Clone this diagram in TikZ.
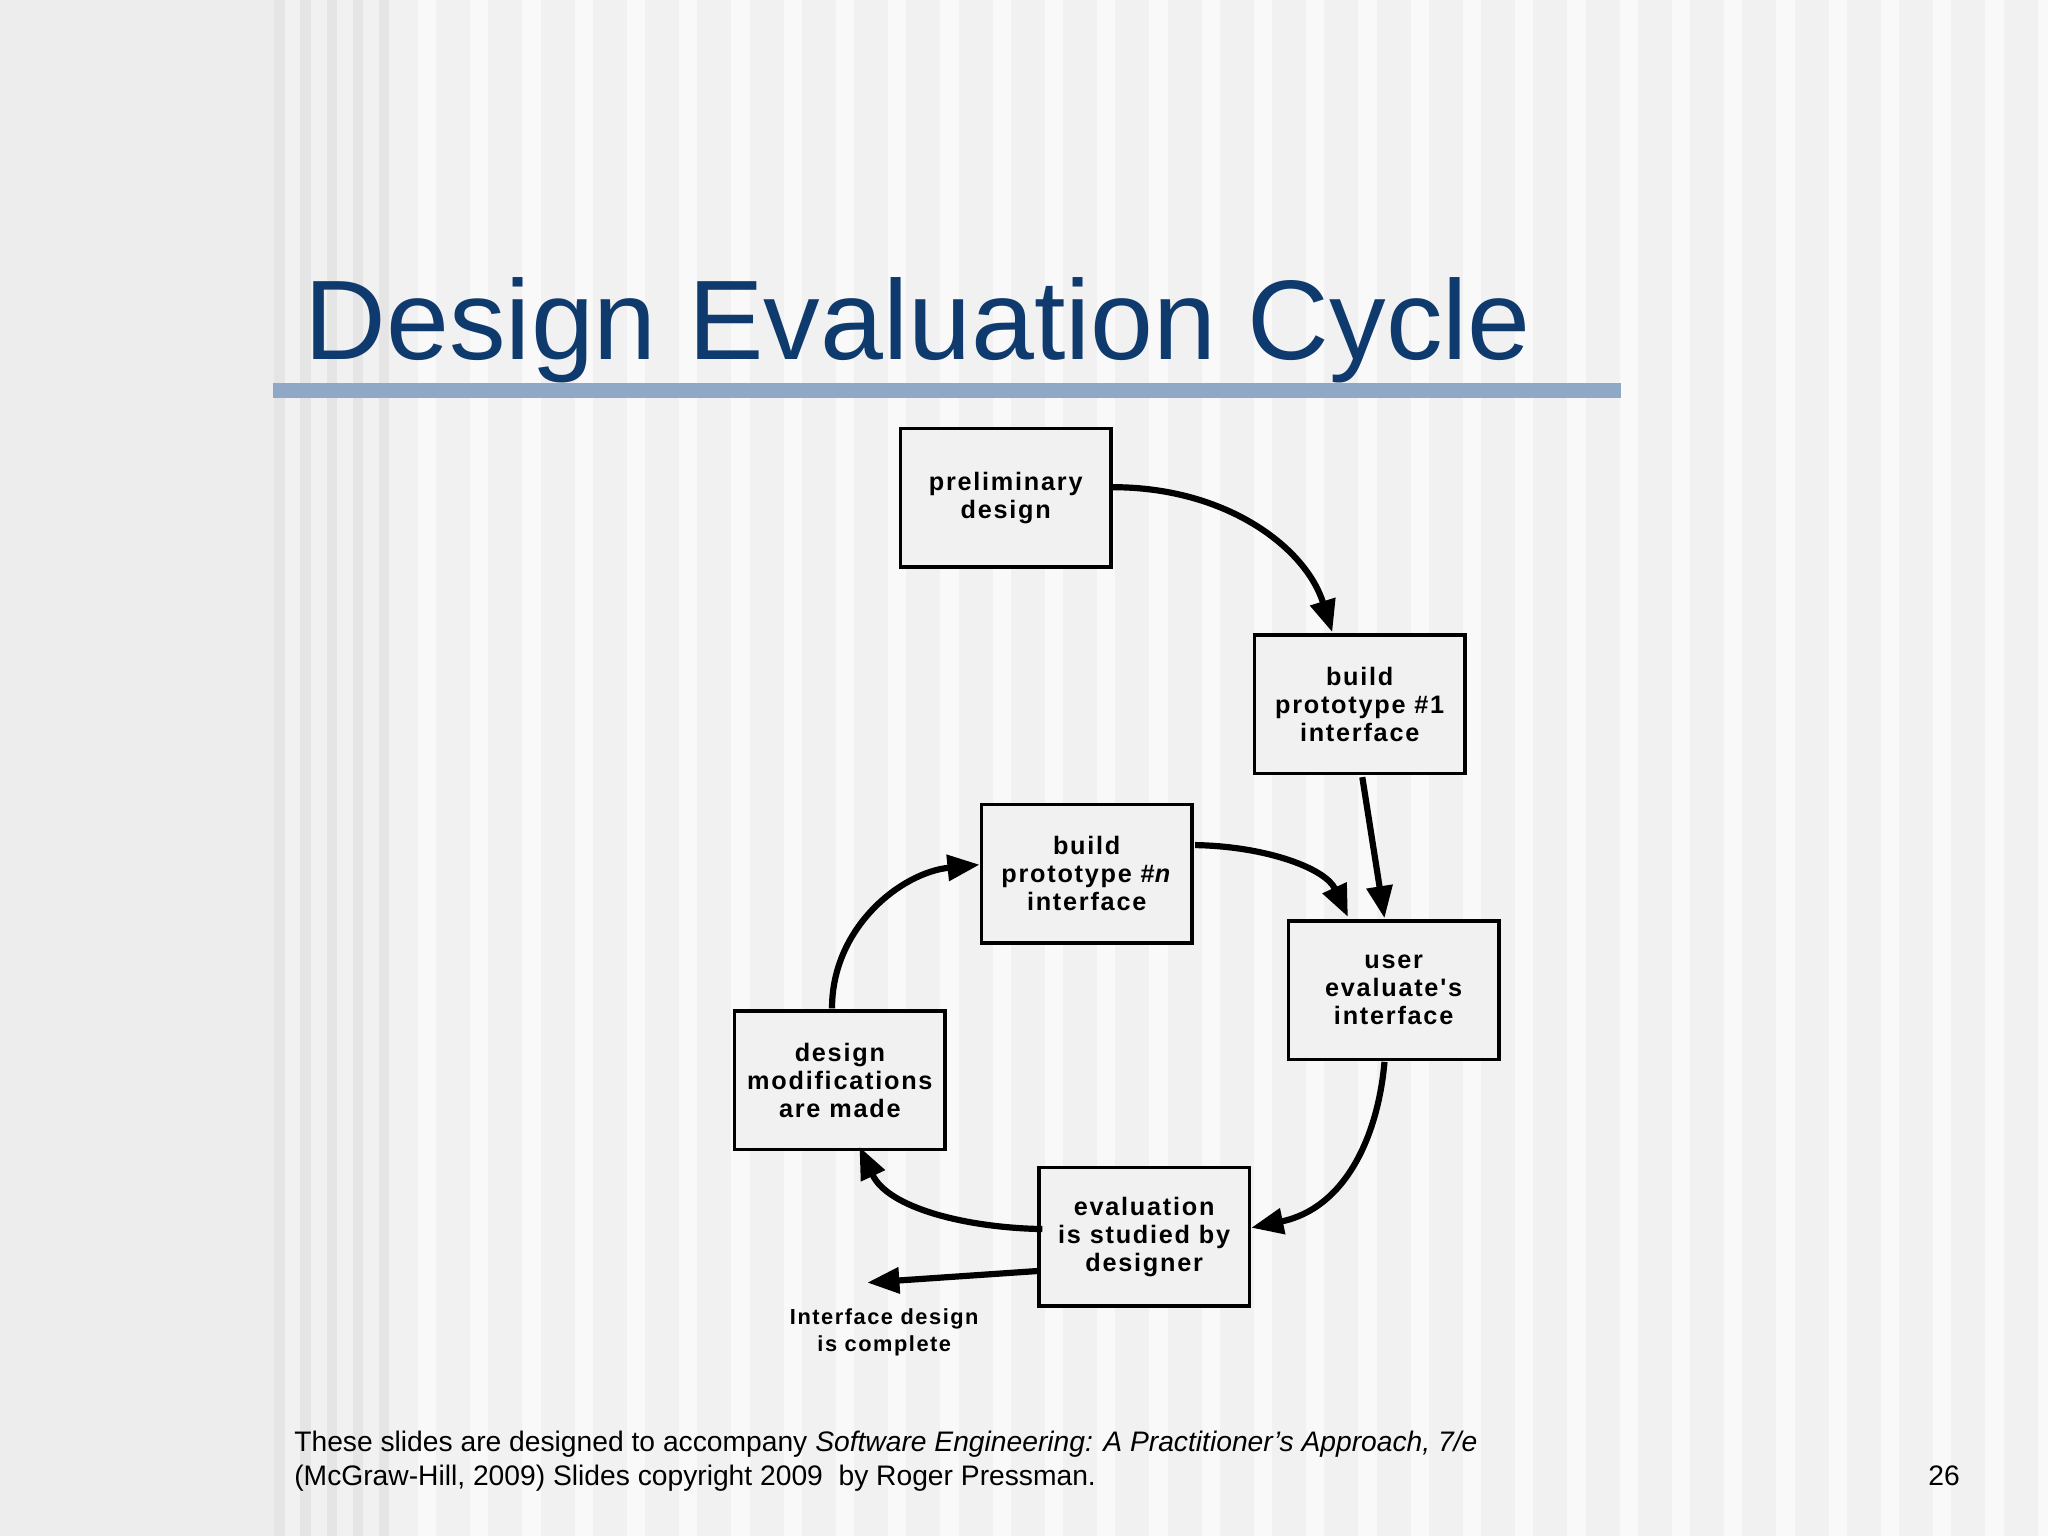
\documentclass[tikz,border=0pt]{standalone}
\usepackage{fontspec}
\setmainfont{Liberation Sans}
\newfontfamily\boxfont[LetterSpace=7]{Liberation Sans}
\usetikzlibrary{arrows.meta}
\definecolor{titleblue}{HTML}{0E3A6E}
\definecolor{barblue}{HTML}{8FA8C6}
\definecolor{bgg}{HTML}{F1F1F1}
\begin{document}
\begin{tikzpicture}[x=0.02cm,y=-0.02cm,
  box/.style={draw,line width=1.5pt,fill=bgg,minimum width=161*0.02cm,minimum height=106*0.02cm,align=center,font=\boxfont\fontsize{11}{12.2}\selectfont\bfseries,inner sep=0pt},
  arr/.style={line width=2.7pt,-{Triangle[length=14pt,width=11pt]}}]
\useasboundingbox (0,0) rectangle (1568,1176);
\fill[bgg] (0,0) rectangle (1568,1176);
\fill[gray!14] (0,0) rectangle (210,1176);
\foreach \x in {210,230,250,270,290}{\fill[gray!20] (\x,0) rectangle ++(8,1176);}
\foreach \x in {320,360,...,1560}{\fill[white,opacity=0.6] (\x,0) rectangle ++(14,1176);}
\node[anchor=base west,text=titleblue,font=\fontsize{49.3}{54}\selectfont,inner sep=0pt] (title) at (233,275) {Design Evaluation Cycle};
\fill[barblue] (209,293) rectangle (1241,305);
\node[box] (pre) at (770,381) {preliminary\\design};
\node[box] (p1) at (1041,539) {build\\prototype \#1\\interface};
\node[box] (pn) at (832,669) {build\\prototype \#\textit{n}\\interface};
\node[box] (ue) at (1067,758) {user\\evaluate's\\interface};
\node[box] (dm) at (643,827) {design\\modifications\\are made};
\node[box] (ev) at (876,947) {evaluation\\is studied by\\designer};
\coordinate (done) at (664,982);
\node[align=center,font=\boxfont\fontsize{9.5}{12}\selectfont\bfseries] (lbl) at (677,1020) {Interface design\\is complete};
\draw[arr] (pre.east|-0,373) .. controls (940,373) and (1000,420) .. (1020,484);
\draw[arr] (1043,595) -- (1060,703);
\draw[arr] (915,647) .. controls (970,648) and (1015,665) .. (1032,702);
\draw[arr] (1060,813) .. controls (1055,870) and (1030,925) .. (958,940);
\draw[arr] (798,941) .. controls (740,940) and (680,925) .. (658,878);
\draw[arr] (637,772) .. controls (637,710) and (690,668) .. (750,662);
\draw[arr] (796,973) -- (done);
\node[anchor=base west,font=\fontsize{12.3}{13}\selectfont,inner sep=0pt] (f1) at (225,1111) {These slides are designed to accompany \textit{Software Engineering: A Practitioner’s Approach, 7/e}};
\node[anchor=base west,font=\fontsize{12.3}{13}\selectfont,inner sep=0pt] (f2) at (225,1137) {(McGraw-Hill, 2009) Slides copyright 2009\ \ by Roger Pressman.};
\node[anchor=base west,font=\fontsize{12.3}{13}\selectfont,inner sep=0pt] (pg) at (1476,1137) {26};
\end{tikzpicture}
\end{document}
